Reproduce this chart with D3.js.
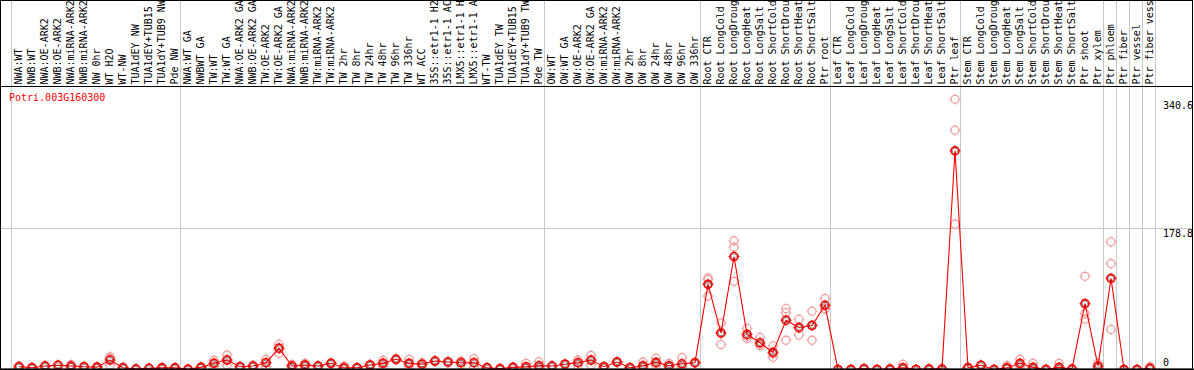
<!DOCTYPE html>
<html><head><meta charset="utf-8">
<script src="https://cdn.jsdelivr.net/npm/d3@7/dist/d3.min.js"></script>
<style>html,body{margin:0;padding:0;background:#fff;overflow:hidden}svg{display:block}
text{font-family:"DejaVu Sans Mono",monospace;font-size:10px}</style>
</head><body>
<svg id="c" width="1194" height="370"></svg>
<script>
const title = "Potri.003G160300";
const categories = ["NWA:WT","NWB:WT","NWA:OE-ARK2","NWB:OE-ARK2","NWA:miRNA-ARK2","NWB:miRNA-ARK2","NW 0hr","WT H2O","WT-NW","TUA1dEY NW","TUA1dEY+TUB15 NW","TUA1dY+TUB9 NW","Pde NW",
"NWA:WT GA","NWBWT GA","TW:WT","TW:WT GA","NWA:OE-ARK2 GA","NWB:OE-ARK2 GA","TW:OE-ARK2","TW:OE-ARK2 GA","NWA:miRNA-ARK2 GA","NWB:miRNA-ARK2 GA","TW:miRNA-ARK2","TW:miRNA-ARK2 GA","TW 2hr","TW 8hr","TW 24hr","TW 48hr","TW 96hr","TW 336hr","WT ACC","35S::etr1-1 H2O","35S::etr1-1 ACC","LMX5::etr1-1 H2O","LMX5::etr1-1 ACC","WT-TW","TUA1dEY TW","TUA1dEY+TUB15 TW","TUA1dY+TUB9 TW","Pde TW",
"OW:WT","OW:WT GA","OW:OE-ARK2","OW:OE-ARK2 GA","OW:miRNA-ARK2","OW:miRNA-ARK2 GA","OW 2hr","OW 8hr","OW 24hr","OW 48hr","OW 96hr","OW 336hr",
"Root CTR","Root LongCold","Root LongDrought","Root LongHeat","Root LongSalt","Root ShortCold","Root ShortDrought","Root ShortHeat","Root ShortSalt","Ptr root",
"Leaf CTR","Leaf LongCold","Leaf LongDrought","Leaf LongHeat","Leaf LongSalt","Leaf ShortCold","Leaf ShortDrought","Leaf ShortHeat","Leaf ShortSalt","Ptr leaf",
"Stem CTR","Stem LongCold","Stem LongDrought","Stem LongHeat","Stem LongSalt","Stem ShortCold","Stem ShortDrought","Stem ShortHeat","Stem ShortSalt","Ptr shoot","Ptr xylem",
"Ptr phloem","Ptr fiber","Ptr vessel","Ptr fiber vessel"];
const groupSizes = [13,28,12,10,10,11,1,1,1,1];
const meanValues = [3.5,2.3,4.4,5.3,4.4,3.5,3.0,12,2.3,0.6,1.5,2.0,2.0,
0.3,2.7,7.8,12,3.5,4.4,8.6,26.7,4.4,5.7,4.4,7.8,2.3,2.3,5.7,7.8,12.9,7.8,6.7,10.7,9.5,8.6,8.6,2.3,1.0,2.7,3.5,4.8,
4.4,6.7,8.6,12,3.5,9.5,2.3,4.8,9,4.8,7.2,8.6,
107.8,46,143,44.4,33.8,21.7,62.4,53.2,55.7,81.3,
0,0,1.0,0,0.5,2.3,0,0.5,0.5,276.8,
2.3,5.3,0,2.3,7.8,2.7,0,2.7,0.5,83.4,4.4,
115.4,0,0,1.5];
const rep1 = [4.5,2.8,5.0,5.8,6.0,3.8,3.5,16,2.5,0.8,1.8,2.4,2.3,
0.4,3.2,11.7,18.3,4.0,5.0,13,32,6.5,7.8,4.8,8.5,4.4,2.6,6.2,11.7,13.5,12.9,8.6,11.5,10.0,10.7,13.8,2.6,1.3,3.0,7.8,9.9,
4.8,7.2,12,18,4.0,10.0,2.8,9.5,14.3,7.8,15,9.2,
116,59,163,52,40.6,30,77,63.7,73.8,90,
0,0,1.5,0,0.8,6.5,0,0.8,0.8,342,
3.0,5.8,0,4.9,12.9,7.8,0,7.8,0.8,118,7.8,
161.6,0,0,3.5];
const rep2 = [3.5,2.3,4.4,5.3,4.4,3.5,3.0,14.3,2.3,0.6,1.5,2.0,2.0,
0.3,2.7,8.0,12,3.5,4.4,9,27.6,4.4,5.7,4.4,7.8,1.5,2.3,5.7,7.8,12.9,7.0,8.0,10.7,9.5,9.0,8.6,2.3,1.0,2.7,1.5,2.6,
4.4,6.7,8.6,12,3.5,9.5,2.3,2.6,7.8,3.5,3.5,8.6,
113.7,47.2,155,42,30.8,19.7,72,52.4,56.3,77,
0,0,1.0,0,0.5,0.3,0,0.5,0.5,303,
2.3,5.3,0,1.2,6.5,0.2,0,0.2,0.5,70.9,3.0,
134,0,0,0.6];
const rep3 = [2.5,1.8,3.8,4.8,2.8,3.2,2.5,5.7,2.1,0.4,1.2,1.6,1.7,
0.2,2.2,3.7,5.7,3.0,3.8,3.8,20.5,2.3,3.6,4.0,7.1,1.0,2.0,5.2,3.9,12.3,3.5,3.5,9.9,9.0,6.1,3.4,2.0,0.7,2.4,1.2,1.9,
4.0,6.2,5.2,6,3.0,9.0,1.8,2.3,4.9,3.1,3.1,8.0,
93,31.8,111.6,39.3,30,15.4,37,43.5,37,77,
0,0,0.5,0,0.2,0.1,0,0.2,0.2,184,
1.6,4.8,0,0.8,4.0,0.1,0,0.1,0.2,63.7,2.4,
50.7,0,0,0.4];
const yTicks = [0,178.8,340.6];
const yMax = 357.6;
const labelChars = 14; // header height holds 14 characters; the reference shows the names cut there

const svg = d3.select("#c");
const red = "#ff0000", pink = "#f0a0a0", grid = "#c8c8c8";

const x = d3.scaleBand().domain(categories).range([11, 11 + 13*categories.length]).padding(0);
const px = c => x(c) + 8;
const y = d3.scaleLinear().domain([0, yMax]).range([369.5, 87]);

// group boundaries
let acc = 0; const bounds = [0];
groupSizes.forEach(s => { acc += s; bounds.push(acc); });
const bx = k => k < categories.length ? x(categories[k]) : x(categories[categories.length-1]) + x.bandwidth();
svg.append("g").selectAll("line").data(bounds).join("line")
  .attr("x1", d => bx(d)+0.5).attr("x2", d => bx(d)+0.5).attr("y1", 0).attr("y2", 369)
  .attr("stroke", grid).attr("stroke-width", 1);

// horizontal gridline
svg.append("line").attr("x1",0).attr("x2",1193).attr("y1",Math.round(y(178.8))+0.5).attr("y2",Math.round(y(178.8))+0.5)
  .attr("stroke", grid);

// labels
svg.append("g").selectAll("text").data(categories).join("text")
  .attr("transform", d => `translate(${x(d)+10.5},84.5) rotate(-90)`)
  .attr("text-anchor","start").attr("fill","#000")
  .text(d => d.length > labelChars ? d.slice(0, labelChars).trimEnd() : d)
  .append("title").text(d => d);

// title
svg.append("text").attr("x", 9).attr("y", 101).attr("fill", red).text(title);

// y tick labels
svg.append("g").selectAll("text").data(yTicks).join("text")
  .attr("x", 1163).attr("y", d => Math.min(y(d) + 9, 366)).attr("fill","#000").text(d => d);

// marker helper
function marker(g, cx, cy, color, sw) {
  g.append("circle").attr("cx", cx).attr("cy", cy).attr("r", 4).attr("fill","none").attr("stroke", color).attr("stroke-width", sw);
  const t = [[0,-4,0,-5.5],[0,4,0,5.5],[-4,0,-5.5,0],[4,0,5.5,0]];
  t.forEach(([a,b,c,d]) => g.append("line").attr("x1",cx+a).attr("y1",cy+b).attr("x2",cx+c).attr("y2",cy+d).attr("stroke",color).attr("stroke-width",1));
}
const gr = svg.append("g");
[rep1, rep2, rep3].forEach(rep => rep.forEach((v,i) => marker(gr, px(categories[i]), y(v), pink, 1.3)));

// mean line
const line = d3.line().x((d,i) => px(categories[i])).y(d => y(d));
svg.append("path").attr("d", line(meanValues)).attr("fill","none").attr("stroke", red).attr("stroke-width", 1.1);

const gm = svg.append("g");
meanValues.forEach((v,i) => {
  const cx = px(categories[i]), cy = y(v);
  marker(gm, cx, cy, red, 1.6);
  gm.append("circle").attr("cx", cx).attr("cy", cy).attr("r", 2.7).attr("fill","none").attr("stroke","#000").attr("stroke-width",0.6).attr("stroke-opacity",0.75);
});

// frame
svg.append("line").attr("x1",0).attr("x2",1193).attr("y1",86.5).attr("y2",86.5).attr("stroke","#000");
svg.append("rect").attr("x",0.5).attr("y",0.5).attr("width",1192).attr("height",368.5).attr("fill","none").attr("stroke","#000");
svg.append("line").attr("x1",0).attr("x2",1194).attr("y1",369.5).attr("y2",369.5).attr("stroke","#000").attr("stroke-width",1.5);
</script>
</body></html>
